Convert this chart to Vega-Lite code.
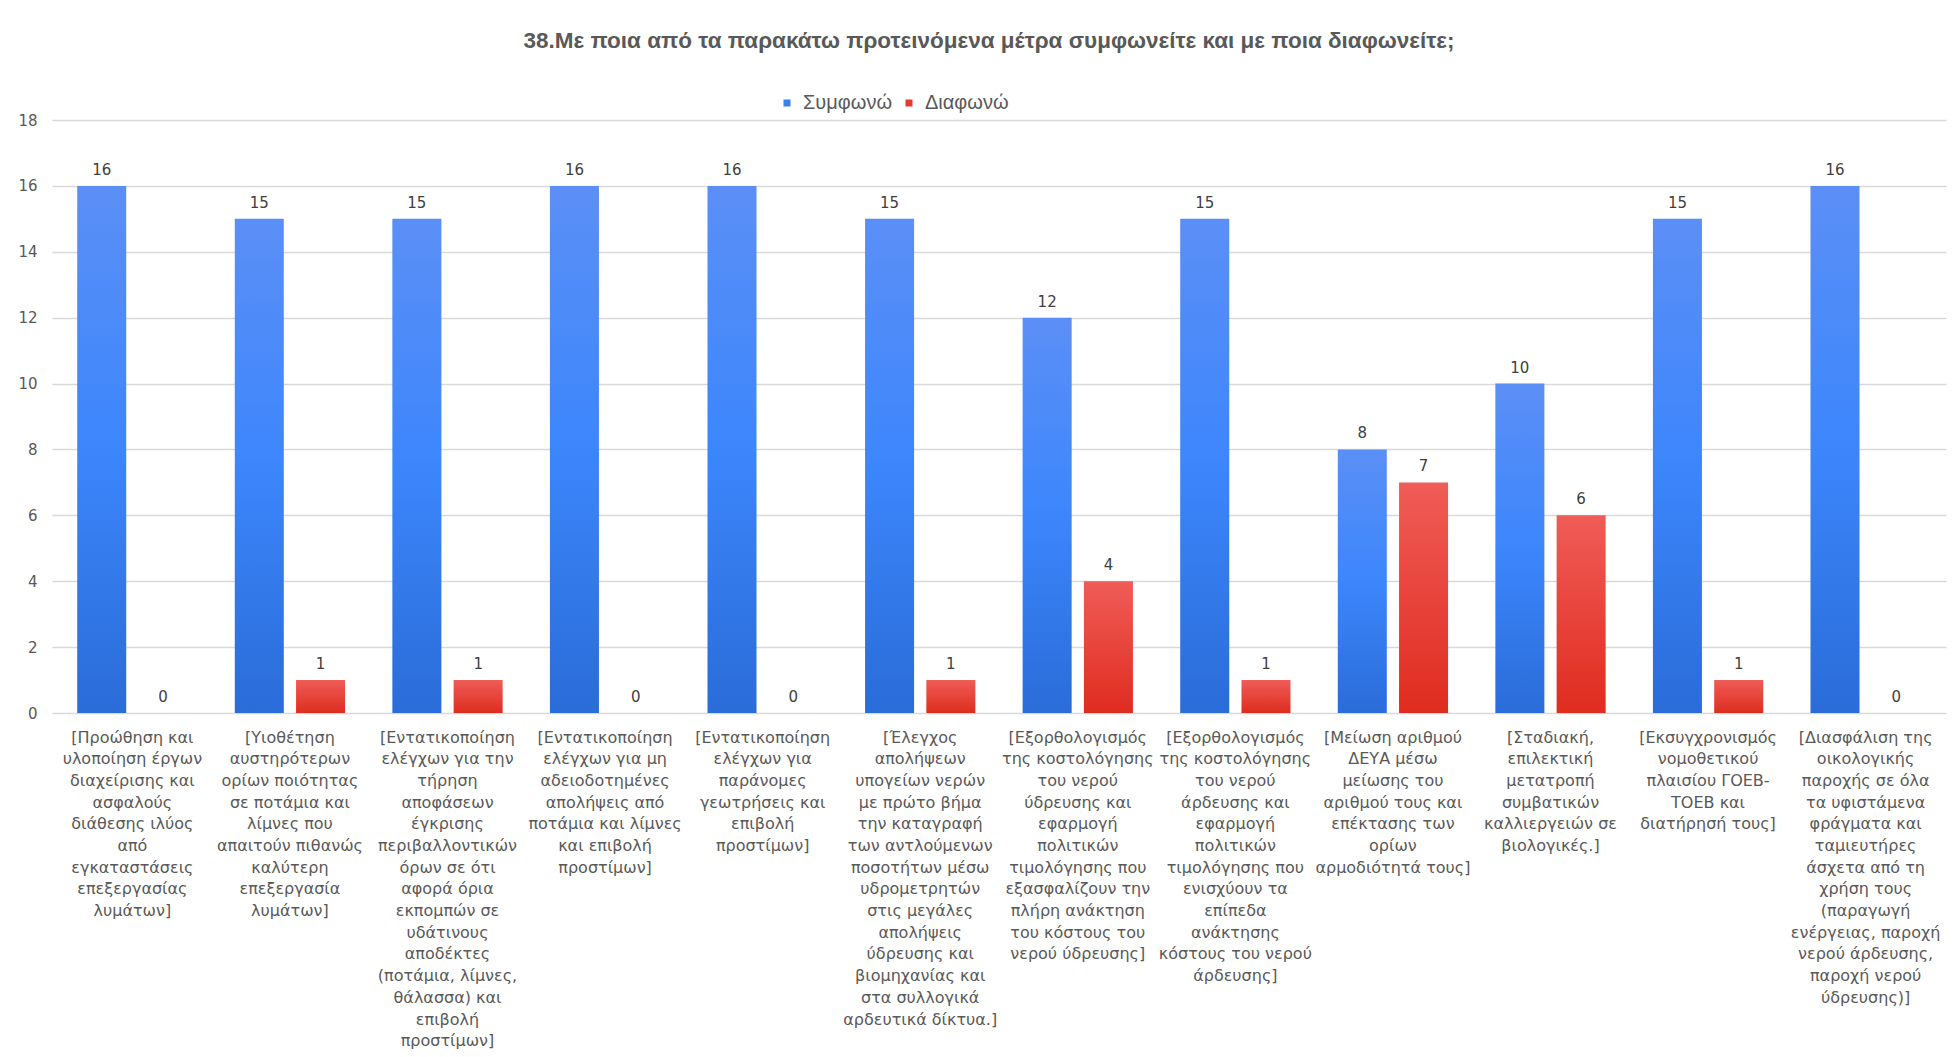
{
  "$schema": "https://vega.github.io/schema/vega-lite/v6.json",
  "autosize": {"type": "none"},
  "width": 1894,
  "height": 593,
  "padding": {"left": 52, "top": 120, "right": 7, "bottom": 344},
  "background": "white",
  "config": {
    "view": {"stroke": null},
    "font": "DejaVu Sans"
  },
  "title": {
    "text": "38.Με ποια από τα παρακάτω προτεινόμενα μέτρα συμφωνείτε και με ποια διαφωνείτε;",
    "anchor": "middle",
    "dx": -10,
    "offset": 41,
    "font": "Liberation Sans",
    "fontSize": 22.5,
    "fontWeight": "bold",
    "color": "#595959"
  },
  "data": {
    "values": [
      {"measure": "[Προώθηση και|υλοποίηση έργων|διαχείρισης και|ασφαλούς|διάθεσης ιλύος|από|εγκαταστάσεις|επεξεργασίας|λυμάτων]", "series": "Συμφωνώ", "count": 16},
      {"measure": "[Προώθηση και|υλοποίηση έργων|διαχείρισης και|ασφαλούς|διάθεσης ιλύος|από|εγκαταστάσεις|επεξεργασίας|λυμάτων]", "series": "Διαφωνώ", "count": 0},
      {"measure": "[Υιοθέτηση|αυστηρότερων|ορίων ποιότητας|σε ποτάμια και|λίμνες που|απαιτούν πιθανώς|καλύτερη|επεξεργασία|λυμάτων]", "series": "Συμφωνώ", "count": 15},
      {"measure": "[Υιοθέτηση|αυστηρότερων|ορίων ποιότητας|σε ποτάμια και|λίμνες που|απαιτούν πιθανώς|καλύτερη|επεξεργασία|λυμάτων]", "series": "Διαφωνώ", "count": 1},
      {"measure": "[Εντατικοποίηση|ελέγχων για την|τήρηση|αποφάσεων|έγκρισης|περιβαλλοντικών|όρων σε ότι|αφορά όρια|εκπομπών σε|υδάτινους|αποδέκτες|(ποτάμια, λίμνες,|θάλασσα) και|επιβολή|προστίμων]", "series": "Συμφωνώ", "count": 15},
      {"measure": "[Εντατικοποίηση|ελέγχων για την|τήρηση|αποφάσεων|έγκρισης|περιβαλλοντικών|όρων σε ότι|αφορά όρια|εκπομπών σε|υδάτινους|αποδέκτες|(ποτάμια, λίμνες,|θάλασσα) και|επιβολή|προστίμων]", "series": "Διαφωνώ", "count": 1},
      {"measure": "[Εντατικοποίηση|ελέγχων για μη|αδειοδοτημένες|απολήψεις από|ποτάμια και λίμνες|και επιβολή|προστίμων]", "series": "Συμφωνώ", "count": 16},
      {"measure": "[Εντατικοποίηση|ελέγχων για μη|αδειοδοτημένες|απολήψεις από|ποτάμια και λίμνες|και επιβολή|προστίμων]", "series": "Διαφωνώ", "count": 0},
      {"measure": "[Εντατικοποίηση|ελέγχων για|παράνομες|γεωτρήσεις και|επιβολή|προστίμων]", "series": "Συμφωνώ", "count": 16},
      {"measure": "[Εντατικοποίηση|ελέγχων για|παράνομες|γεωτρήσεις και|επιβολή|προστίμων]", "series": "Διαφωνώ", "count": 0},
      {"measure": "[Έλεγχος|απολήψεων|υπογείων νερών|με πρώτο βήμα|την  καταγραφή|των αντλούμενων|ποσοτήτων μέσω|υδρομετρητών|στις μεγάλες|απολήψεις|ύδρευσης και|βιομηχανίας και|στα συλλογικά|αρδευτικά δίκτυα.]", "series": "Συμφωνώ", "count": 15},
      {"measure": "[Έλεγχος|απολήψεων|υπογείων νερών|με πρώτο βήμα|την  καταγραφή|των αντλούμενων|ποσοτήτων μέσω|υδρομετρητών|στις μεγάλες|απολήψεις|ύδρευσης και|βιομηχανίας και|στα συλλογικά|αρδευτικά δίκτυα.]", "series": "Διαφωνώ", "count": 1},
      {"measure": "[Εξορθολογισμός|της κοστολόγησης|του νερού|ύδρευσης και|εφαρμογή|πολιτικών|τιμολόγησης που|εξασφαλίζουν την|πλήρη ανάκτηση|του κόστους του|νερού ύδρευσης]", "series": "Συμφωνώ", "count": 12},
      {"measure": "[Εξορθολογισμός|της κοστολόγησης|του νερού|ύδρευσης και|εφαρμογή|πολιτικών|τιμολόγησης που|εξασφαλίζουν την|πλήρη ανάκτηση|του κόστους του|νερού ύδρευσης]", "series": "Διαφωνώ", "count": 4},
      {"measure": "[Εξορθολογισμός|της κοστολόγησης|του νερού|άρδευσης και|εφαρμογή|πολιτικών|τιμολόγησης που|ενισχύουν τα|επίπεδα|ανάκτησης|κόστους του νερού|άρδευσης]", "series": "Συμφωνώ", "count": 15},
      {"measure": "[Εξορθολογισμός|της κοστολόγησης|του νερού|άρδευσης και|εφαρμογή|πολιτικών|τιμολόγησης που|ενισχύουν τα|επίπεδα|ανάκτησης|κόστους του νερού|άρδευσης]", "series": "Διαφωνώ", "count": 1},
      {"measure": "[Μείωση αριθμού|ΔΕΥΑ μέσω|μείωσης του|αριθμού τους και|επέκτασης των|ορίων|αρμοδιότητά τους]", "series": "Συμφωνώ", "count": 8},
      {"measure": "[Μείωση αριθμού|ΔΕΥΑ μέσω|μείωσης του|αριθμού τους και|επέκτασης των|ορίων|αρμοδιότητά τους]", "series": "Διαφωνώ", "count": 7},
      {"measure": "[Σταδιακή,|επιλεκτική|μετατροπή|συμβατικών|καλλιεργειών σε|βιολογικές.]", "series": "Συμφωνώ", "count": 10},
      {"measure": "[Σταδιακή,|επιλεκτική|μετατροπή|συμβατικών|καλλιεργειών σε|βιολογικές.]", "series": "Διαφωνώ", "count": 6},
      {"measure": "[Εκσυγχρονισμός|νομοθετικού|πλαισίου ΓΟΕΒ-|ΤΟΕΒ και|διατήρησή  τους]", "series": "Συμφωνώ", "count": 15},
      {"measure": "[Εκσυγχρονισμός|νομοθετικού|πλαισίου ΓΟΕΒ-|ΤΟΕΒ και|διατήρησή  τους]", "series": "Διαφωνώ", "count": 1},
      {"measure": "[Διασφάλιση της|οικολογικής|παροχής σε όλα|τα υφιστάμενα|φράγματα και|ταμιευτήρες|άσχετα από τη|χρήση τους|(παραγωγή|ενέργειας, παροχή|νερού άρδευσης,|παροχή νερού|ύδρευσης)]", "series": "Συμφωνώ", "count": 16},
      {"measure": "[Διασφάλιση της|οικολογικής|παροχής σε όλα|τα υφιστάμενα|φράγματα και|ταμιευτήρες|άσχετα από τη|χρήση τους|(παραγωγή|ενέργειας, παροχή|νερού άρδευσης,|παροχή νερού|ύδρευσης)]", "series": "Διαφωνώ", "count": 0}
    ]
  },
  "encoding": {
    "x": {
      "field": "measure",
      "type": "nominal",
      "sort": null,
      "scale": {"paddingInner": 0.3, "paddingOuter": 0.16},
      "axis": {
        "title": null,
        "labelAngle": 0,
        "labelExpr": "split(datum.value, '|')",
        "labelFont": "DejaVu Sans",
        "labelFontSize": 16,
        "labelLineHeight": 21.7,
        "labelColor": "#595959",
        "labelLimit": 0,
        "labelPadding": 16,
        "labelBaseline": "top",
        "domain": false,
        "ticks": false
      }
    },
    "xOffset": {
      "field": "series",
      "type": "nominal",
      "sort": ["Συμφωνώ", "Διαφωνώ"],
      "scale": {"paddingInner": 0.2, "paddingOuter": 0}
    },
    "y": {
      "field": "count",
      "type": "quantitative",
      "scale": {"domain": [0, 18], "nice": false},
      "axis": {
        "title": null,
        "values": [0, 2, 4, 6, 8, 10, 12, 14, 16, 18],
        "domain": false,
        "ticks": false,
        "labelPadding": 15,
        "labelFont": "DejaVu Sans",
        "labelFontSize": 15,
        "labelColor": "#595959",
        "gridColor": "#d9d9d9",
        "gridWidth": 1.5
      }
    }
  },
  "layer": [
    {
      "mark": {"type": "bar", "opacity": 0},
      "encoding": {
        "color": {
          "field": "series",
          "type": "nominal",
          "sort": ["Συμφωνώ", "Διαφωνώ"],
          "scale": {"domain": ["Συμφωνώ", "Διαφωνώ"], "range": ["#3a7ff0", "#e8392e"]},
          "legend": {
            "title": null,
            "orient": "none",
            "direction": "horizontal",
            "legendX": 725,
            "legendY": -27,
            "padding": 0,
            "symbolType": "square",
            "symbolSize": 49,
            "symbolOpacity": 1,
            "symbolStrokeWidth": 0,
            "labelFont": "Liberation Sans",
            "labelFontSize": 20,
            "labelColor": "#595959",
            "labelOffset": 6,
            "columnPadding": 6
          }
        }
      }
    },
    {
      "mark": {"type": "bar"},
      "encoding": {
        "fill": {
          "condition": {
            "test": "datum.series === 'Συμφωνώ'",
            "value": {
              "gradient": "linear", "x1": 0, "y1": 0, "x2": 0, "y2": 1,
              "stops": [
                {"offset": 0, "color": "#5b8ff6"},
                {"offset": 0.5, "color": "#3c86fc"},
                {"offset": 1, "color": "#2a6cd8"}
              ]
            }
          },
          "value": {
            "gradient": "linear", "x1": 0, "y1": 0, "x2": 0, "y2": 1,
            "stops": [
              {"offset": 0, "color": "#f05c57"},
              {"offset": 1, "color": "#df2c1f"}
            ]
          }
        }
      }
    },
    {
      "mark": {"type": "text", "baseline": "bottom", "dy": -8, "font": "DejaVu Sans", "fontSize": 15, "color": "#404040"},
      "encoding": {
        "text": {"field": "count", "type": "quantitative"}
      }
    }
  ]
}
